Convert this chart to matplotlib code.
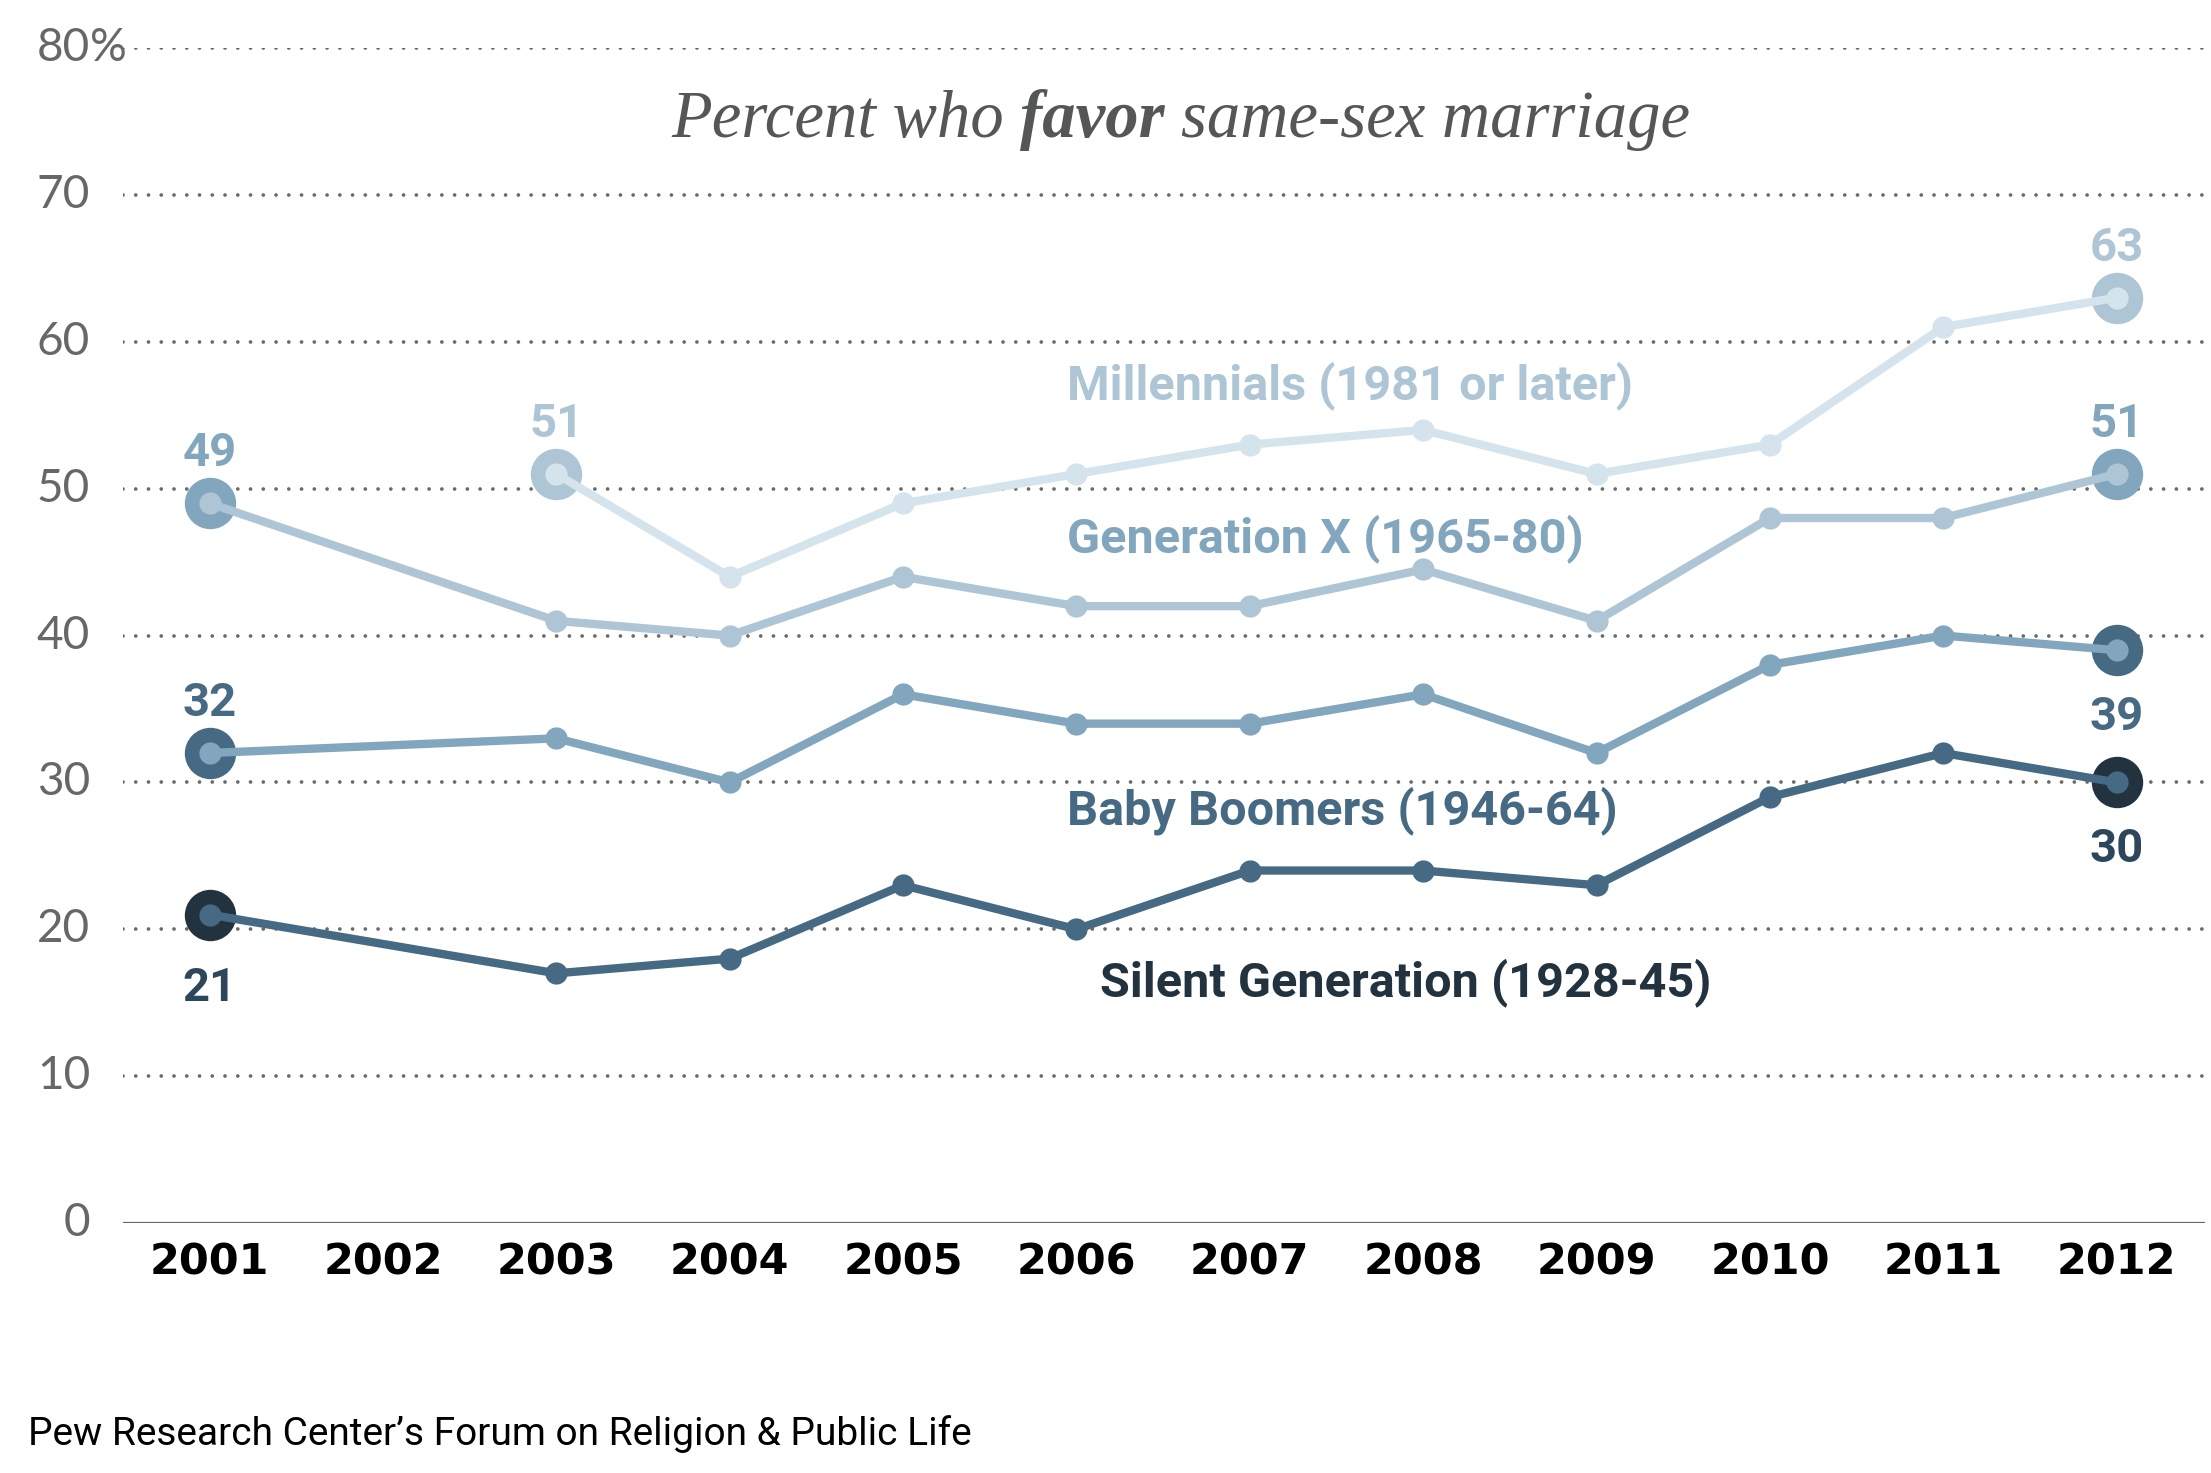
import matplotlib
matplotlib.use('Agg')
import matplotlib.pyplot as plt
from matplotlib import font_manager


def pick_font(names):
    for n in names:
        try:
            font_manager.findfont(font_manager.FontProperties(family=n), fallback_to_default=False)
            return n
        except ValueError:
            pass
    return 'DejaVu Sans'


narrow = pick_font(['Liberation Sans Narrow', 'Roboto', 'Lato'])
plain = pick_font(['Lato', 'Open Sans', 'DejaVu Sans'])
serif = pick_font(['Liberation Serif', 'DejaVu Serif'])

#############################################################################
# data

years_mill = [2003, 2004, 2005, 2006, 2007, 2008, 2009, 2010, 2011, 2012]
millennials = [51, 44, 49, 51, 53, 54, 51, 53, 61, 63]

years_all = [2001, 2003, 2004, 2005, 2006, 2007, 2008, 2009, 2010, 2011, 2012]
gen_x = [49, 41, 40, 44, 42, 42, 44.5, 41, 48, 48, 51]
boomers = [32, 33, 30, 36, 34, 34, 36, 32, 38, 40, 39]
silent = [21, 17, 18, 23, 20, 24, 24, 23, 29, 32, 30]

tick_years = [2001, 2002, 2003, 2004, 2005, 2006, 2007, 2008, 2009, 2010, 2011, 2012]
y_ticks = [0, 10, 20, 30, 40, 50, 60, 70, 80]

series_names = ['Millennials (1981 or later)', 'Generation X (1965-80)',
                'Baby Boomers (1946-64)', 'Silent Generation (1928-45)']

#############################################################################

c_mill = '#d5e3ec'
c_genx = '#adc5d4'
c_boom = '#82a6be'
c_silent = '#476a84'
c_dark = '#22333f'
c_grey = '#666769'

fig = plt.figure(figsize=(22.11, 14.73), dpi=100)
ax = fig.add_axes([0.0556, 0.1697, 0.9417, 0.7977])
ax.set_xlim(2000.5, 2012.51)
ax.set_ylim(0, 80)
for s in ax.spines.values():
    s.set_visible(False)

# dotted grid
for y in y_ticks[1:]:
    ax.axhline(y, color='#6a6a6a', lw=2.7, linestyle=(0, (0.001, 3.4)),
               dash_capstyle='round', zorder=1)
ax.axhline(0, color='#666666', lw=1.6, zorder=1)

lw = 6
ms = 16
big = 37

series = [
    (years_mill, millennials, c_mill, c_genx),
    (years_all, gen_x, c_genx, c_boom),
    (years_all, boomers, c_boom, c_silent),
    (years_all, silent, c_silent, c_dark),
]

for xs, ys, col, ring in series:
    ends_x = [xs[0], xs[-1]]
    ends_y = [ys[0], ys[-1]]
    ax.plot(ends_x, ends_y, linestyle='none', marker='o', ms=big, color=ring,
            mec='none', zorder=3, clip_on=False)
    ax.plot(xs, ys, color=col, lw=lw, marker='o', ms=ms, mec='none',
            zorder=4, clip_on=False, solid_joinstyle='round')

# value labels at the ends
above = 36
below = -48
label_offsets = [
    (c_genx, years_mill, millennials, [above, above]),
    (c_boom, years_all, gen_x, [above, above]),
    (c_silent, years_all, boomers, [above, below]),
    ('#2c475b', years_all, silent, [-53, below]),
]
for col, xs, ys, offs in label_offsets:
    for i, off in zip([0, -1], offs):
        ax.annotate('%d' % round(ys[i]), (xs[i], ys[i]), xytext=(0, off),
                    textcoords='offset points', ha='center', va='center',
                    fontsize=34, fontweight='bold', family=narrow, color=col)

# series names
name_pos = [(2005.944, 57.0), (2005.944, 46.6), (2005.944, 28.1), (2006.134, 16.4)]
name_cols = [c_genx, c_boom, c_silent, c_dark]
for name, (x, y), col in zip(series_names, name_pos, name_cols):
    ax.text(x, y, name, ha='left', va='center', fontsize=35, fontweight='bold',
            family=narrow, color=col)

# axes ticks
ax.set_xticks(tick_years)
ax.set_xticklabels([str(t) for t in tick_years], fontsize=31, fontweight='bold',
                   family='DejaVu Sans', color='black')
ax.tick_params(axis='x', length=0, pad=13)
ax.set_yticks([])
for y in y_ticks:
    ax.text(2000.31, y, str(y), ha='right', va='center', fontsize=33,
            family=plain, color=c_grey, clip_on=False)
ax.text(2000.31, 80, '%', ha='left', va='center', fontsize=33,
        family=plain, color=c_grey, clip_on=False)

# title in three pieces so "favor" can be bold
parts = [('Percent who', 'normal'), ('favor', 'bold'), ('same-sex marriage', 'normal')]
renderer = fig.canvas.get_renderer()
tsize = 48
texts = []
for s, w in parts:
    t = fig.text(0, 0.9185, s, fontsize=tsize, style='italic', fontweight=w,
                 family=serif, color='#555658', va='center', ha='left')
    texts.append(t)
probe1 = fig.text(0, 0, 'x x', fontsize=tsize, style='italic', family=serif)
probe2 = fig.text(0, 0, 'xx', fontsize=tsize, style='italic', family=serif)
space = probe1.get_window_extent(renderer).width - probe2.get_window_extent(renderer).width
probe1.remove()
probe2.remove()
widths = [t.get_window_extent(renderer).width for t in texts]
total = sum(widths) + space * (len(widths) - 1)
figw = fig.get_figwidth() * fig.dpi
x = 0.534 * figw - total / 2
for t, w in zip(texts, widths):
    t.set_x(x / figw)
    x += w + space

fig.text(0.0127, 0.0265, 'Pew Research Center\u2019s Forum on Religion & Public Life',
         fontsize=28, family=narrow, color='black', ha='left', va='center')

fig.savefig('out.png', dpi=100)
